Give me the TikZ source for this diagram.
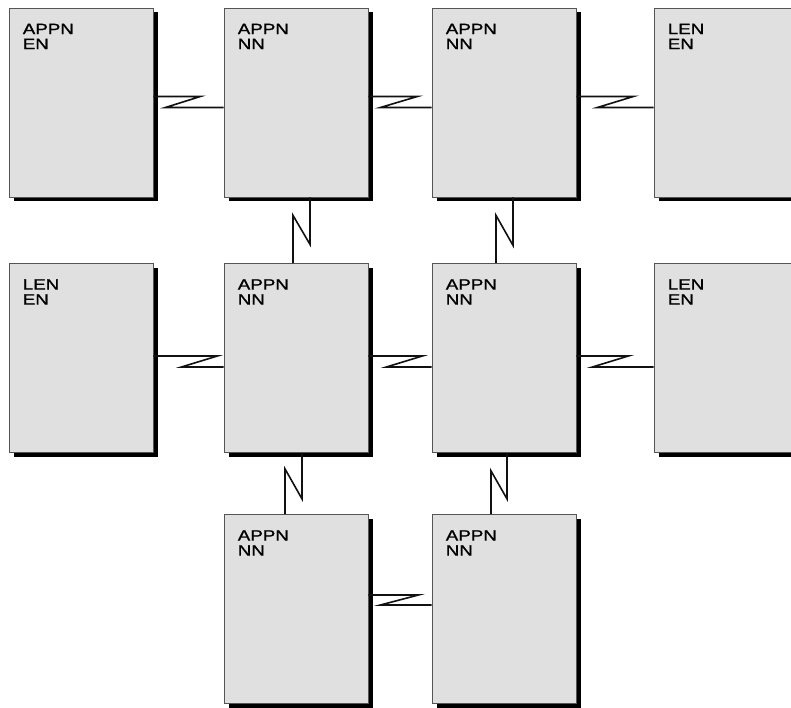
\documentclass[tikz,border=0pt]{standalone}
\usepackage{fontspec}
\usepackage{xcolor}
\usetikzlibrary{calc,shadows}
\newfontfamily\lblfont[FakeStretch=1.25,FakeBold=1.3]{Liberation Sans}
\definecolor{dotgray}{HTML}{E0E0E0}
\definecolor{edgegray}{HTML}{555555}
\definecolor{linegray}{HTML}{111111}

\tikzset{
  nodebox/.style={draw=edgegray, line width=0.8pt, fill=dotgray, minimum width=144pt, minimum height=189pt, inner sep=0pt,
    general shadow={fill=black, shadow xshift=4.5pt, shadow yshift=-4.5pt}},
  lbl/.style={anchor=north west, inner sep=0pt, align=left, font=\lblfont\fontsize{15}{15}\selectfont},
  link/.style={linegray, line width=1.6pt}
}

\begin{document}
\begin{tikzpicture}[x=1pt, y=1pt]
  \useasboundingbox (0,0) rectangle (791,707);
  \node[nodebox] (appnEN) at (81,604.5) {};
  \node[nodebox] (nnA) at (296,604.5) {};
  \node[nodebox] (nnB) at (504,604.5) {};
  \node[nodebox] (lenA) at (726,604.5) {};
  \node[nodebox] (lenB) at (81,349) {};
  \node[nodebox] (nnC) at (296,349) {};
  \node[nodebox] (nnD) at (504,349) {};
  \node[nodebox] (lenC) at (726,349) {};
  \node[nodebox] (nnE) at (296,98) {};
  \node[nodebox] (nnF) at (504,98) {};

  \node[lbl] (tA) at ([xshift=14pt,yshift=-16pt]appnEN.north west) {APPN\\EN};
  \node[lbl] (tB) at ([xshift=14pt,yshift=-16pt]nnA.north west) {APPN\\NN};
  \node[lbl] (tC) at ([xshift=14pt,yshift=-16pt]nnB.north west) {APPN\\NN};
  \node[lbl] (tD) at ([xshift=14pt,yshift=-16pt]lenA.north west) {LEN\\EN};
  \node[lbl] (tE) at ([xshift=14pt,yshift=-16pt]lenB.north west) {LEN\\EN};
  \node[lbl] (tF) at ([xshift=14pt,yshift=-16pt]nnC.north west) {APPN\\NN};
  \node[lbl] (tG) at ([xshift=14pt,yshift=-16pt]nnD.north west) {APPN\\NN};
  \node[lbl] (tH) at ([xshift=14pt,yshift=-16pt]lenC.north west) {LEN\\EN};
  \node[lbl] (tI) at ([xshift=14pt,yshift=-16pt]nnE.north west) {APPN\\NN};
  \node[lbl] (tJ) at ([xshift=14pt,yshift=-16pt]nnF.north west) {APPN\\NN};

  \draw[link] ($(appnEN.east)+(0,6)$) -- ++(47,0) -- ++(-35,-11) -- ($(nnA.west)+(0,-5)$);
  \draw[link] ($(nnA.east)+(0,6)$) -- ++(49,0) -- ++(-37,-11) -- ($(nnB.west)+(0,-5)$);
  \draw[link] ($(nnB.east)+(0,6)$) -- ++(57,0) -- ++(-36,-11) -- ($(lenA.west)+(0,-5)$);
  \draw[link] ($(lenB.east)+(0,2)$) -- ++(64,0) -- ++(-36,-11) -- ($(nnC.west)+(0,-9)$);
  \draw[link] ($(nnC.east)+(0,2)$) -- ++(54,0) -- ++(-36,-11) -- ($(nnD.west)+(0,-9)$);
  \draw[link] ($(nnD.east)+(0,2)$) -- ++(52,0) -- ++(-36,-11) -- ($(lenC.west)+(0,-9)$);
  \draw[link] ($(nnE.east)+(0,14)$) -- ++(50,0) -- ++(-38,-10) -- ($(nnF.west)+(0,4)$);

  \draw[link] ($(nnA.south)+(14,0)$) -- ++(0,-47) -- ++(-17,29) -- ($(nnC.north)+(-3,0)$);
  \draw[link] ($(nnB.south)+(9,0)$) -- ++(0,-48) -- ++(-17,30) -- ($(nnD.north)+(-8,0)$);
  \draw[link] ($(nnC.south)+(6,0)$) -- ++(0,-46) -- ++(-17,30) -- ($(nnE.north)+(-11,0)$);
  \draw[link] ($(nnD.south)+(3,0)$) -- ++(0,-46) -- ++(-16,28) -- ($(nnF.north)+(-13,0)$);
\end{tikzpicture}
\end{document}
